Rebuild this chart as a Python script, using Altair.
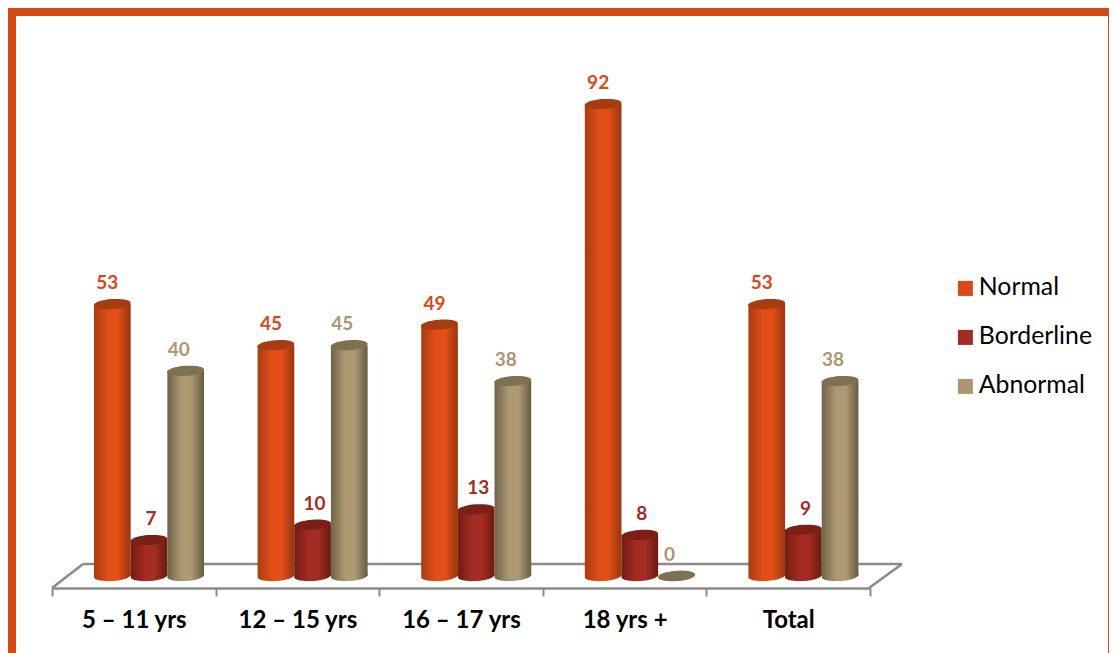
import altair as alt
import pandas as pd

groups = ["5 – 11 yrs", "12 – 15 yrs", "16 – 17 yrs", "18 yrs +", "Total"]
series = ["Normal", "Borderline", "Abnormal"]
normal = [53, 45, 49, 92, 53]
borderline = [7, 10, 13, 8, 9]
abnormal = [40, 45, 38, 0, 38]
text_colors = ["#d9481a", "#a22d23", "#ab9670"]
top_colors = ["#a63c12", "#7b2016", "#7e7050"]
edge_l = ["#a83c10", "#721c12", "#6f6448"]
mid = ["#e24e18", "#a42c22", "#ad9a74"]
edge_r = ["#97360f", "#6a1a10", "#665b42"]
label_dx = [-5, 2, -7]

rows = []
for s, vals in zip(series, [normal, borderline, abnormal]):
    for g, v in zip(groups, vals):
        rows.append({"group": g, "series": s, "value": v})
df = pd.DataFrame(rows)

W, H = 818, 572
ELLIPSE = "M-1,0A1,0.27,0,1,1,1,0A1,0.27,0,1,1,-1,0Z"
FRAME = "#d34817"

x_enc = alt.X(
    "group:N", sort=groups, title=None,
    scale=alt.Scale(paddingInner=0, paddingOuter=0),
    axis=alt.Axis(labelAngle=0, labelFont="Lato", labelFontWeight="bold", labelFontSize=24,
                  labelColor="#000000", labelPadding=12, domainColor="#8a8a8a", domainWidth=2.5,
                  tickColor="#8a8a8a", tickWidth=2, tickSize=8, tickBand="extent", grid=False),
)
off_enc = alt.XOffset("series:N", sort=series,
                      scale=alt.Scale(domain=series, range=[42, 152], paddingInner=0, paddingOuter=0))
y_scale = alt.Scale(domain=[-2.34, 109.16], nice=False, zero=False)
y_enc = alt.Y("value:Q", axis=None, scale=y_scale)


def grad(i):
    return alt.LinearGradient(
        gradient="linear", x1=0, x2=1, y1=0, y2=0,
        stops=[alt.GradientStop(offset=0, color=edge_l[i]),
               alt.GradientStop(offset=0.4, color=mid[i]),
               alt.GradientStop(offset=0.65, color=mid[i]),
               alt.GradientStop(offset=1, color=edge_r[i])],
    )


one = pd.DataFrame({"a": [0]})


def seg(x, x2, y, y2):
    return alt.Chart(one).mark_rule(color="#8a8a8a", strokeWidth=2.5).encode(
        x=alt.value(x), x2=alt.value(x2), y=alt.value(y), y2=alt.value(y2))


def frame(x, x2, y, y2):
    return alt.Chart(one).mark_rect(color=FRAME).encode(
        x=alt.value(x), x2=alt.value(x2), y=alt.value(y), y2=alt.value(y2))


layers = [
    frame(-44, -36, -8, 637),
    frame(-44, 1057, -8, 0),
    frame(1056, 1057, -8, 637),
    seg(0, 31, H, H - 24),
    seg(31, 850, H - 24, H - 24),
    seg(817, 850, H, H - 24),
]

for i, s in enumerate(series):
    base = alt.Chart(df).transform_filter(alt.datum.series == s)
    bottom = base.transform_calculate(zero="0").mark_point(
        shape=ELLIPSE, size=1369, filled=True, opacity=1, fill=grad(i), strokeWidth=0, angle=356
    ).encode(x=x_enc, xOffset=off_enc, y=alt.Y("zero:Q", axis=None, scale=y_scale))
    bars = base.mark_bar(fill=grad(i), strokeWidth=0).encode(x=x_enc, xOffset=off_enc, y=y_enc)
    tops = base.mark_point(
        shape=ELLIPSE, size=1369, filled=True, opacity=1, fill=top_colors[i], strokeWidth=0, angle=356
    ).encode(x=x_enc, xOffset=off_enc, y=y_enc)
    labels = base.mark_text(
        font="Lato", fontWeight="bold", fontSize=19, dx=label_dx[i], dy=-21, baseline="middle"
    ).encode(
        x=x_enc, xOffset=off_enc, y=y_enc, text="value:Q",
        color=alt.Color("series:N", sort=series,
                        scale=alt.Scale(domain=series, range=text_colors),
                        legend=alt.Legend(orient="none", legendX=901, legendY=260, title=None,
                                          symbolType="square", symbolSize=225, symbolOpacity=1,
                                          labelFont="Lato", labelFontSize=24.8, labelColor="#000000",
                                          rowPadding=23, labelOffset=1, symbolStrokeWidth=0)),
    )
    layers += [bottom, bars, tops, labels]

chart = alt.layer(*layers).properties(
    width=W, height=H,
    padding={"left": 44, "top": 8, "right": 239, "bottom": 65},
    autosize=alt.AutoSizeParams(type="none"),
    background="#ffffff",
).configure_view(stroke=None)

chart.save("out.html", embed_options={"renderer": "svg", "actions": False})
